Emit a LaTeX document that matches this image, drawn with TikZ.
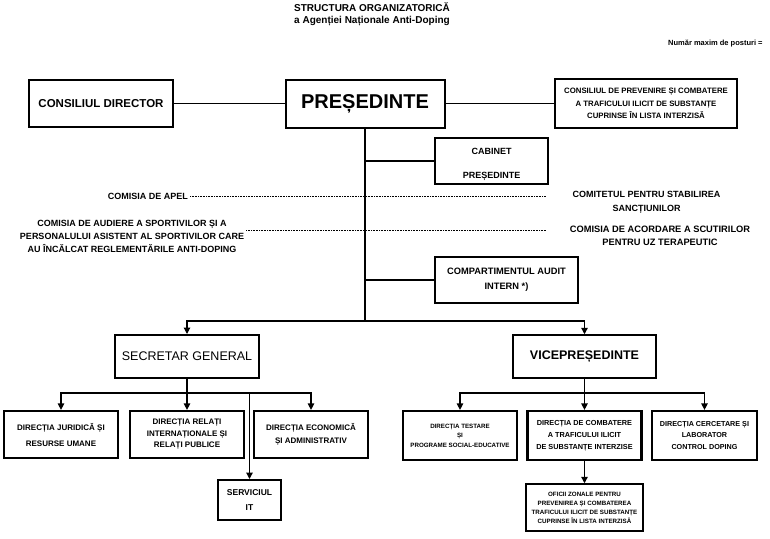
\documentclass[tikz,border=0pt]{standalone}
\usepackage{fontspec}
\setmainfont{Liberation Sans}
\usetikzlibrary{arrows.meta}

\newcommand{\fsz}[2]{\fontsize{#1}{#2}\selectfont}

\tikzset{
  box/.style={draw, line width=1.6pt, align=center, inner sep=1pt},
  lbl/.style={font=\bfseries\fsz{9}{13}, align=center, inner sep=0pt},
  conn/.style={line width=1.2pt},
  arr/.style={conn, -{Triangle[length=6.5pt, width=6.5pt]}},
  dotline/.style={line width=0.7pt, dash pattern=on 0.8pt off 0.8pt},
}

\begin{document}
\begin{tikzpicture}[x=1pt, y=-1pt]
	\useasboundingbox (0,0) rectangle (770,538);

	% title
	\node[anchor=north west, align=left, inner sep=0pt, font=\bfseries\fsz{10}{12}]
		(title) at (294,2) {STRUCTURA ORGANIZATORICĂ\\a Agenției Naționale Anti-Doping};
	\node[anchor=west, inner sep=0pt, font=\bfseries\fsz{7.5}{9}]
		(posturi) at (668,44) {Număr maxim de posturi =};

	% top row
	\node[box, line width=1.8pt, minimum width=144pt, minimum height=47pt,
		font=\bfseries\fsz{11.5}{14}] (consdir) at (101,103.5) {CONSILIUL DIRECTOR};
	\node[box, line width=2pt, minimum width=159pt, minimum height=48pt,
		font=\bfseries\fsz{20}{24}] (pres) at (365,103.5) {PREȘEDINTE};
	\node[box, line width=1.5pt, minimum width=182pt, minimum height=49pt,
		font=\bfseries\fsz{7.8}{12.5}] (prev) at (646,103.5)
		{CONSILIUL DE PREVENIRE ȘI COMBATERE\\A TRAFICULUI ILICIT DE SUBSTANȚE\\CUPRINSE ÎN LISTA INTERZISĂ};

	\draw[conn] (consdir) -- (pres);
	\draw[conn] (pres) -- (prev);

	% staff boxes on the main line
	\node[box, line width=1.8pt, minimum width=113pt, minimum height=46pt,
		font=\bfseries\fsz{9}{24}] (cabinet) at (491.5,161) {\rule{0pt}{14pt}CABINET\\PREȘEDINTE};
	\node[box, line width=1.2pt, minimum width=143pt, minimum height=46pt,
		font=\bfseries\fsz{9.3}{15}] (audit) at (506.5,280) {COMPARTIMENTUL AUDIT\\INTERN *)};

	% commissions
	\node[lbl, anchor=east] (apel) at (188,196) {COMISIA DE APEL};
	\node[lbl] (audiere) at (132,236.5)
		{COMISIA DE AUDIERE A SPORTIVILOR ȘI A\\PERSONALULUI ASISTENT AL SPORTIVILOR CARE\\AU ÎNCĂLCAT REGLEMENTĂRILE ANTI-DOPING};
	\node[lbl, font=\bfseries\fsz{9}{14}] (comitet) at (646.5,202)
		{COMITETUL PENTRU STABILIREA\\SANCȚIUNILOR};
	\node[lbl, font=\bfseries\fsz{9.3}{13}] (scutiri) at (660,235.5)
		{COMISIA DE ACORDARE A SCUTIRILOR\\PENTRU  UZ TERAPEUTIC};

	\coordinate (dotend) at (546,0);
	\draw[dotline] ([xshift=2pt]apel.east) -- (apel.east -| dotend);
	\draw[dotline] ([xshift=2pt, yshift=6pt]audiere.east) -- ([yshift=6pt]audiere.east -| dotend);

	% second level
	\node[box, line width=2pt, minimum width=144pt, minimum height=43pt,
		font=\fsz{12.5}{15}] (secgen) at (187,356.5) {SECRETAR GENERAL};
	\node[box, line width=1.5pt, minimum width=143pt, minimum height=43pt,
		font=\bfseries\fsz{12.5}{15}] (vice) at (584.5,356.5) {VICEPREȘEDINTE};

	\coordinate (splitrow) at (0,321);
	\coordinate (split) at (pres.south |- splitrow);
	\draw[conn] (pres.south) -- (split);
	\draw[conn] (cabinet.west) -- (cabinet.west -| pres.south);
	\draw[conn, line width=2pt] (audit.west) -- (audit.west -| pres.south);
	\draw[arr] (split) -| (secgen.north);
	\draw[arr] (split) -| (vice.north);

	% directions under the general secretary
	\node[box, line width=2.2pt, minimum width=114pt, minimum height=47pt,
		font=\bfseries\fsz{8}{16}] (djur) at (61,434.5) {DIRECȚIA JURIDICĂ ȘI\\RESURSE UMANE};
	\node[box, line width=2.2pt, minimum width=114pt, minimum height=47pt,
		font=\bfseries\fsz{8}{11.5}] (drel) at (187,434.5)
		{DIRECȚIA RELAȚI\\INTERNAȚIONALE ȘI\\RELAȚI PUBLICE};
	\node[box, line width=2.2pt, minimum width=114pt, minimum height=47pt,
		font=\bfseries\fsz{8}{13}] (deco) at (311,434.5) {DIRECȚIA ECONOMICĂ\\ȘI ADMINISTRATIV};
	\node[box, line width=2pt, minimum width=63pt, minimum height=40pt,
		font=\bfseries\fsz{8.5}{15}] (servit) at (249.5,500) {SERVICIUL\\IT};

	\coordinate (barrow) at (0,393);
	\coordinate (sgbar) at (secgen.south |- barrow);
	\draw[conn] (secgen.south) -- (sgbar);
	\draw[arr] (sgbar) -| (djur.north);
	\draw[arr] (sgbar) -- (drel.north);
	\draw[arr] (sgbar) -| (deco.north);
	\draw[arr] (sgbar -| servit.north) -- (servit.north);

	% directions under the vice-president
	\node[box, line width=2.2pt, minimum width=114pt, minimum height=49pt,
		font=\bfseries\fsz{6.2}{9.5}] (dtest) at (460,435.5)
		{DIRECȚIA TESTARE\\ȘI\\PROGRAME SOCIAL-EDUCATIVE};
	\node[box, line width=2.2pt, minimum width=114pt, minimum height=49pt,
		font=\bfseries\fsz{7.3}{12}] (dcomb) at (584.5,435.5)
		{DIRECȚIA DE COMBATERE\\A TRAFICULUI ILICIT\\DE SUBSTANȚE INTERZISE};
	\node[box, line width=2.2pt, minimum width=105pt, minimum height=49pt,
		font=\bfseries\fsz{7.2}{11.5}] (dcerc) at (704.5,435.5)
		{DIRECȚIA CERCETARE ȘI\\LABORATOR\\CONTROL DOPING};
	\node[box, line width=1.5pt, minimum width=117pt, minimum height=47pt,
		font=\bfseries\fsz{6.2}{9}] (oficii) at (584.5,507.5)
		{OFICII ZONALE PENTRU\\PREVENIREA ȘI COMBATEREA\\TRAFICULUI ILICIT DE SUBSTANȚE\\CUPRINSE ÎN LISTA INTERZISĂ};

	\coordinate (vpbar) at (vice.south |- barrow);
	\draw[conn] (vice.south) -- (vpbar);
	\draw[arr] (vpbar) -| (dtest.north);
	\draw[arr] (vpbar) -- (dcomb.north);
	\draw[arr] (vpbar) -| (dcerc.north);
	\draw[arr] (dcomb.south) -- (oficii.north);

\end{tikzpicture}
\end{document}
